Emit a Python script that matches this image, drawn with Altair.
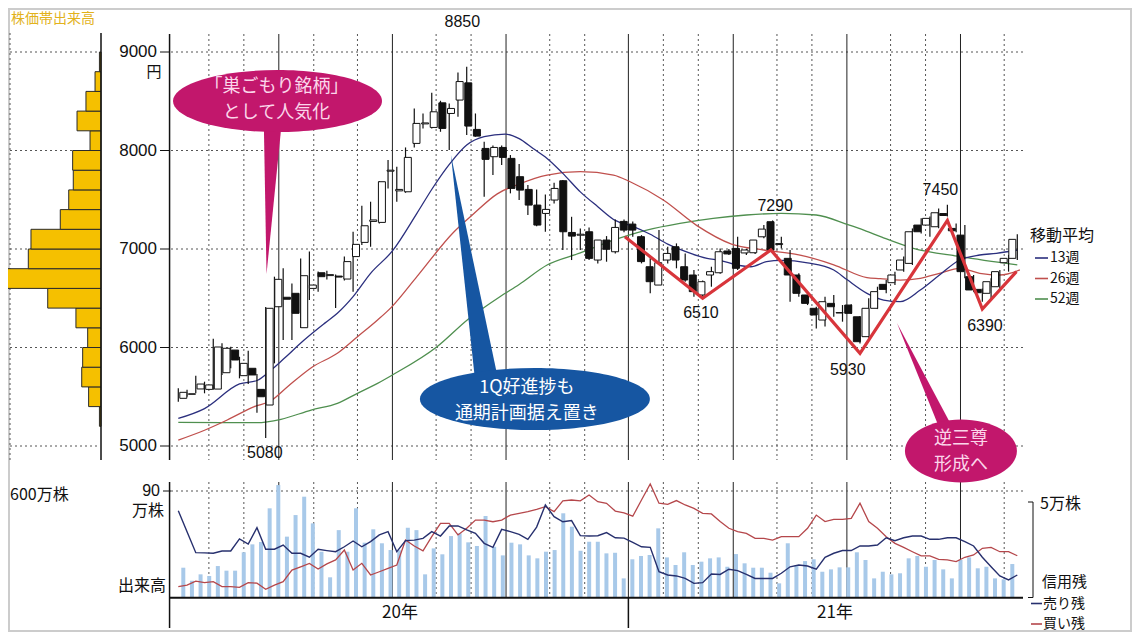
import altair as alt
import pandas as pd

JP = "Noto Sans CJK JP"
NUM = "Liberation Sans"

# ---------------- weekly candles (Jan 2020 - Oct 2021), yen ----------------
weeks = list(range(97))
open_ = [5484,5525,5579,5575,5578,5744,5974,5714,5789,5575,
         5416,6414,6510,6550,6201,6600,6759,6730,6725,6695,
         6923,7067,7280,7270,7790,7590,7581,8072,8270,8234,
         8484,8376,8512,8687,8214,8021,7937,8031,7920,7734,
         7605,7446,7361,7497,7693,7168,7140,7175,6888,7091,
         6972,7280,7253,7125,6820,6634,6888,7023,6820,6736,
         6533,6736,6759,6980,7006,6960,6962,7124,7277,7045,
         6905,6736,6533,6398,6279,6448,6350,6431,6312,6110,
         6398,6641,6658,6787,6854,7243,7243,7226,7360,7209,
         7141,6719,6590,6550,6617,6861,6905]
high_ = [5586,5570,5714,5653,6090,6042,6008,5906,5967,5731,
         6410,6719,6804,6651,6903,6974,6772,6780,6740,6923,
         7175,7439,7480,7690,7903,7835,8031,8427,8376,8586,
         8505,8478,8793,8850,8376,8089,8050,8050,7954,7862,
         7649,7605,7554,7673,7700,7327,7209,7219,7091,7131,
         7300,7300,7280,7141,6905,7192,7023,7057,6955,6787,
         6680,6820,7006,7000,7125,7000,7091,7243,7290,7124,
         6990,6753,6540,6414,6516,6533,6431,6440,6320,6499,
         6617,6685,6770,6923,7209,7311,7330,7412,7450,7260,
         7243,6736,6600,6702,6787,6939,7149]
low_ = [5450,5500,5535,5535,5570,5721,5789,5687,5629,5338,
        5080,5839,6076,6076,6198,6482,6567,6690,6400,6680,
        6566,7040,7023,7260,7615,7480,7571,8031,8224,8224,
        8190,8004,8342,8157,8140,7531,7751,7852,7565,7497,
        7344,7230,7175,7463,6989,6888,6989,6888,6854,6871,
        6955,7170,7124,6854,6550,6634,6854,6804,6668,6516,
        6510,6617,6750,6940,6787,6940,6950,7110,6980,7006,
        6465,6516,6431,6194,6212,6312,6262,6340,6040,6100,
        6390,6550,6634,6770,6838,7158,7124,7210,7330,7170,
        6702,6567,6465,6482,6600,6770,6888]
close_ = [5545,5530,5629,5620,6005,5992,5873,5839,5721,5500,
          6398,6692,6490,6347,6729,6634,6719,6740,6715,6872,
          7047,7236,7295,7683,7800,7605,7930,8275,8280,8393,
          8224,8427,8700,8248,8146,7910,8031,7930,7615,7598,
          7446,7243,7402,7615,7175,7131,7150,6905,7091,6997,
          7219,7192,7192,6872,6668,6861,6955,6888,6685,6567,
          6668,6770,6972,6950,6804,6990,7091,7202,6990,7055,
          6736,6550,6448,6330,6465,6414,6355,6347,6059,6398,
          6567,6590,6736,6888,7175,7175,7311,7368,7340,7185,
          6770,6584,6556,6668,6770,6905,7098]

# weekly volume, 10k shares (万株)
volume = [25.3,14.3,19.7,18.3,26.7,22.8,22.8,38.3,45,47,
          75.4,95,51.5,69.7,85.2,62.7,38.8,17.2,57,38.8,
          75.4,46.4,57.7,45.9,40.2,40,59,57,19.7,41.6,
          36.6,52,54.3,46.7,43.6,68.9,43,35.7,46.4,45,
          35.7,33.2,38.8,40.2,71.2,59.9,39.6,47.2,47.2,37.4,
          37.9,16.3,32.4,35.2,36,58.5,34,27.6,38.3,27.6,
          30.4,33.2,34,26.1,36.8,29,25.3,25.3,21.1,12.1,
          45.9,27.6,30.9,32.4,21.9,23.9,25.6,25.6,38.3,31.8,
          16.3,21.9,19.7,20.6,33.2,35.2,26.1,31.8,23.9,16.3,
          31.8,34,24.8,26.1,16.3,15.5,28.4]
# margin balances, 10k shares (万株)
sell_margin = [4.56,3.46,2.36,2.35,2.33,2.45,2.45,3.08,2.81,3.67,
               2.54,2.54,2.76,2.33,2.33,2.12,2.54,2.47,2.41,2.67,
               2.97,2.67,2.94,3.29,3.46,2.41,2.99,3.02,3.11,3.46,
               3.23,3.76,3.76,3.55,3.37,2.85,2.64,3.58,3.46,3.32,
               3.06,3.7,4.86,4.25,3.98,4.04,3.25,3.23,3.25,3.41,
               3.14,3.12,2.9,2.67,2.64,1.36,1.19,1.14,1.01,0.75,
               0.79,1.24,1.22,1.49,1.42,1.22,1.01,1.01,1.01,1.28,
               1.62,1.71,1.66,1.49,2.12,2.33,2.47,2.47,2.71,2.71,
               2.76,3.14,2.99,3.14,3.23,3.23,3.06,3.06,3.14,3.14,
               2.94,2.71,2.12,1.62,1.14,0.93,1.19]
buy_margin = [0.58,0.66,0.87,0.79,0.84,0.58,0.58,0.54,0.79,0.76,
              0.44,0.66,0.84,1.45,1.62,1.80,1.50,1.77,1.98,2.50,
              1.45,1.80,1.19,1.36,1.54,1.71,3.02,2.71,2.46,3.20,
              3.90,3.90,3.29,3.64,4.07,4.07,3.98,4.07,4.33,4.42,
              4.51,4.63,4.77,4.51,5.08,5.12,5.08,5.38,5.03,4.95,
              4.54,4.45,4.27,5.12,5.96,4.95,4.89,5.09,4.86,4.68,
              4.42,4.39,3.99,3.64,3.46,3.37,3.11,3.11,3.02,3.20,
              3.20,3.20,3.64,4.33,3.99,4.11,4.11,4.16,4.95,3.99,
              3.64,3.20,2.85,2.64,2.41,2.19,2.19,2.01,1.98,1.89,
              2.12,2.24,2.59,2.64,2.41,2.41,2.20]

# moving averages
ma13_w = [0,3,7,9,10.6,12,14.4,16.8,18.2,20,22,24.5,27.3,29.2,31.1,33,35,37.4,39,40.6,
          42.2,44,46,48,50,52,54,56,58,60.5,62,64,65.5,67.3,69,72,75,76.5,78.8,80.7,
          82.6,84.9,87.1,89.4,91.7,93.6,96]
ma13_v = [5280,5380,5630,5665,5770,5880,6076,6250,6347,6516,6753,6980,7362,7632,7869,8055,8140,8167,8120,8020,
          7920,7768,7580,7430,7290,7230,7150,7050,6975,6905,6885,6835,6820,6871,6885,6860,6787,6690,6550,6482,
          6465,6583,6736,6888,6939,6956,6990]
ma26_w = [0,3,5.6,8.7,10.6,12.5,15.3,18.2,20.5,22.8,24.4,27.3,31.5,33.7,36.5,39,42.2,46,49.8,51.7,
          55.5,59.3,63.3,67,71,75,78.8,80.3,82.6,84.9,87.1,89.4,91.7,94,96.3]
ma26_v = [5060,5160,5264,5400,5460,5602,5800,5941,6109,6279,6410,6719,7170,7350,7560,7660,7751,7785,7751,7683,
          7497,7240,7050,6990,6940,6840,6710,6700,6685,6702,6753,6804,6753,6736,6787]
ma52_w = [0,5,9,11.75,15.2,18.2,20.5,22.8,24.5,29.6,33.2,36.8,39,42.2,46,49.8,53.6,57.4,61.2,65,
          69,73,76.7,78.5,80.5,84,89.5,96]
ma52_v = [5240,5237,5237,5271,5365,5433,5535,5636,5721,6008,6290,6516,6640,6838,6960,7090,7192,7260,7311,7345,
          7362,7345,7245,7190,7120,7010,6922,6838]

# inverse head & shoulders zigzag
zz_w = [51.1, 60, 67.8, 78, 88, 92, 95.9]
zz_v = [7125, 6500, 6990, 5940, 7290, 6390, 6770]

# volume-at-price histogram (200-yen bands, 万株)
hist_lo = [5200,5400,5600,5800,6000,6200,6400,6600,6800,7000,7200,7400,7600,7800,8000,8200,8400,8600,8800]
hist_vol = [10,79,123,117,85,160,340,600,464,447,260,206,177,181,70,153,96,38,10]

price_ticks = [5000, 6000, 7000, 8000, 9000]
month_lines = [3.5,7.5,15.5,20.5,29.5,33.5,42.5,46.5,55.5,59.5,68.5,72.5,81.5,85.5,94.5]
quarter_lines = [11.5,24.5,37.5,51.5,63.5,76.5,89.5]
year_lines = [-1.0, 51.5]

label_w = [32.5, 9.9, 68.3, 87.2, 59.8, 76.6, 92.3]
label_p = [9304, 4929, 7437, 7599, 6350, 5772, 6218]
label_t = ["8850", "5080", "7290", "7450", "6510", "5930", "6390"]

ma_names = ["13週", "26週", "52週"]
ma_colors = ["#2b2f7e", "#c0504d", "#4f8f4f"]
mg_names = ["売り残", "買い残"]
mg_colors = ["#27306e", "#b5474b"]

# ---------------- scales ----------------
def px(v):
    return v - 8

xs = alt.Scale(domain=[0, 96], range=[px(178.3), px(1017.3)], zero=False, nice=False)
ps = alt.Scale(domain=[5000, 9000], range=[px(446), px(52)], zero=False, nice=False)
vs = alt.Scale(domain=[0, 90], range=[px(597.7), px(491)], zero=False, nice=False)
ms = alt.Scale(domain=[0, 5], range=[px(597.7), px(502.3)], zero=False, nice=False)
hs = alt.Scale(domain=[0, 600], range=[px(101), px(7)], zero=False, nice=False)

def X(f):
    return alt.X(f, type="quantitative", scale=xs, axis=None)
def YP(f):
    return alt.Y(f, type="quantitative", scale=ps, axis=None)
def YV(f):
    return alt.Y(f, type="quantitative", scale=vs, axis=None)
def YM(f):
    return alt.Y(f, type="quantitative", scale=ms, axis=None)

ONE = pd.DataFrame({"k": [0]})

def rule_px(x1, y1, x2, y2, color="#111", width=1.0, dash=None):
    m = dict(color=color, strokeWidth=width)
    if dash:
        m["strokeDash"] = dash
    return alt.Chart(ONE).mark_rule(**m).encode(
        x=alt.value(px(x1)), x2=alt.value(px(x2)), y=alt.value(px(y1)), y2=alt.value(px(y2)))

def txt(s, x, y, size=16, color="#111", align="left", font=JP, baseline="middle"):
    return alt.Chart(ONE).mark_text(text=s, align=align, baseline=baseline, fontSize=size,
                                    font=font, color=color).encode(x=alt.value(px(x)), y=alt.value(px(y)))

def ellipse_path(k):
    c = 0.5523
    return (f"M-1,0C-1,{-c*k:.4f},{-c:.4f},{-k:.4f},0,{-k:.4f}"
            f"C{c:.4f},{-k:.4f},1,{-c*k:.4f},1,0"
            f"C1,{c*k:.4f},{c:.4f},{k:.4f},0,{k:.4f}"
            f"C{-c:.4f},{k:.4f},-1,{c*k:.4f},-1,0Z")

DOT = [2, 3]
layers = []

# frame
layers.append(alt.Chart(ONE).mark_rect(fillOpacity=0, stroke="#cccccc", strokeWidth=2).encode(
    x=alt.value(1), x2=alt.value(1123), y=alt.value(1), y2=alt.value(623)))

# price grid
pg = pd.DataFrame({"p": price_ticks, "lab": [str(v) for v in price_ticks]})
layers.append(alt.Chart(pg).mark_rule(color="#555", strokeDash=DOT).encode(
    y=YP("p"), x=alt.value(px(171)), x2=alt.value(px(1023))))
layers.append(alt.Chart(pg).mark_rule(color="#555", strokeDash=DOT).encode(
    y=YP("p"), x=alt.value(px(10)), x2=alt.value(px(100))))
layers.append(alt.Chart(pg).mark_rule(color="#111").encode(
    y=YP("p"), x=alt.value(px(160)), x2=alt.value(px(170))))
layers.append(alt.Chart(pg).mark_text(align="right", baseline="middle", fontSize=17, font=NUM,
                                      color="#111").encode(y=YP("p"), x=alt.value(px(157)), text="lab:N"))
layers.append(rule_px(10, 33, 10, 460, "#555", 1, DOT))

# vertical lines
mg = pd.DataFrame({"w": month_lines})
qg = pd.DataFrame({"w": quarter_lines})
yg = pd.DataFrame({"w": year_lines})
for (y1, y2) in [(34, 460), (482, 598)]:
    layers.append(alt.Chart(mg).mark_rule(color="#555", strokeDash=DOT).encode(
        x=X("w"), y=alt.value(px(y1)), y2=alt.value(px(y2))))
    layers.append(alt.Chart(qg).mark_rule(color="#222", strokeWidth=1).encode(
        x=X("w"), y=alt.value(px(y1)), y2=alt.value(px(y2))))
layers.append(alt.Chart(yg).mark_rule(color="#111", strokeWidth=1.5).encode(
    x=X("w"), y=alt.value(px(598)), y2=alt.value(px(628))))
layers.append(alt.Chart(pd.DataFrame({"w": [-1.0]})).mark_rule(color="#111", strokeWidth=1.5).encode(
    x=X("w"), y=alt.value(px(34)), y2=alt.value(px(460))))
layers.append(alt.Chart(pd.DataFrame({"w": [-1.0]})).mark_rule(color="#111", strokeWidth=1.5).encode(
    x=X("w"), y=alt.value(px(482)), y2=alt.value(px(598))))

# histogram
hd = pd.DataFrame({"lo": hist_lo, "hi": [v + 200 for v in hist_lo], "hv": hist_vol, "zero": 0})
layers.append(alt.Chart(hd).mark_rect(fill="#f5c000", stroke="#2a2a2a", strokeWidth=1).encode(
    x=alt.X("hv", type="quantitative", scale=hs, axis=None), x2=alt.X2("zero"),
    y=YP("lo"), y2=alt.Y2("hi")))
layers.append(rule_px(101, 33, 101, 460, "#111", 1.5))

# moving averages
for w, v, col in [(ma52_w, ma52_v, ma_colors[2]), (ma26_w, ma26_v, ma_colors[1]), (ma13_w, ma13_v, ma_colors[0])]:
    layers.append(alt.Chart(pd.DataFrame({"w": w, "v": v})).mark_line(
        color=col, strokeWidth=1.3, interpolate="monotone").encode(x=X("w"), y=YP("v")))

# volume panel
vd = pd.DataFrame({"w": weeks, "vol": volume, "zero": 0, "sell": sell_margin, "buy": buy_margin})
layers.append(alt.Chart(pd.DataFrame({"v": [90]})).mark_rule(color="#555", strokeDash=DOT).encode(
    y=YV("v"), x=alt.value(px(171)), x2=alt.value(px(1023))))
layers.append(alt.Chart(pd.DataFrame({"v": [90]})).mark_rule(color="#111").encode(
    y=YV("v"), x=alt.value(px(163)), x2=alt.value(px(171))))
layers.append(alt.Chart(vd).mark_bar(size=4, color="#a8c9e9").encode(
    x=X("w"), y=YV("vol"), y2=alt.Y2("zero")))
layers.append(alt.Chart(vd).mark_line(color=mg_colors[1], strokeWidth=1.3).encode(x=X("w"), y=YM("buy")))
layers.append(alt.Chart(vd).mark_line(color=mg_colors[0], strokeWidth=1.4).encode(x=X("w"), y=YM("sell")))
layers.append(alt.Chart(pd.DataFrame({"v": [0]})).mark_rule(color="#111", strokeWidth=2).encode(
    y=YV("v"), x=alt.value(px(170)), x2=alt.value(px(1023))))

# candles
cd = pd.DataFrame({"w": weeks, "o": open_, "h": high_, "l": low_, "c": close_})
layers.append(alt.Chart(cd).mark_rule(color="#111", strokeWidth=1.2).encode(
    x=X("w"), y=YP("l"), y2=alt.Y2("h")))
layers.append(alt.Chart(cd).mark_bar(size=7, stroke="#111", strokeWidth=1).encode(
    x=X("w"), y=YP("o"), y2=alt.Y2("c"),
    fill=alt.condition("datum.c >= datum.o", alt.value("#ffffff"), alt.value("#111111"))))

# zigzag
layers.append(alt.Chart(pd.DataFrame({"w": zz_w, "v": zz_v})).mark_line(
    color="#d8353b", strokeWidth=3.2).encode(x=X("w"), y=YP("v")))

# callouts
callouts = [
    dict(w=11.35, p=8502, lines=["「巣ごもり銘柄」", "として人気化"], color="#c2176c", tcolor="#fbd6ea",
         rx=104.5, k=0.297, wedge="M-0.13,0.26L0.035,0.26L-0.105,1.656Z", dx=-1, dy=-1),
    dict(w=40.8, p=5477, lines=["1Q好進捗も", "通期計画据え置き"], color="#1656a2", tcolor="#ffffff",
         rx=115, k=0.27, wedge="M-0.513,-0.096L-0.304,-0.096L-0.730,-2.122Z", dx=-8, dy=2),
    dict(w=89.55, p=4949, lines=["逆三尊", "形成へ"], color="#c2176c", tcolor="#fbd6ea",
         rx=56, k=0.5625, wedge="M-0.357,-0.339L-0.107,-0.339L-1.143,-2.286Z", dx=0, dy=1),
]
for c in callouts:
    d = pd.DataFrame({"w": [c["w"]], "p": [c["p"]]})
    size = (2 * c["rx"]) ** 2
    layers.append(alt.Chart(d).mark_point(shape=c["wedge"], size=size, filled=True, opacity=1,
                                          color=c["color"], strokeWidth=0).encode(x=X("w"), y=YP("p")))
    layers.append(alt.Chart(d).mark_point(shape=ellipse_path(c["k"]), size=size, filled=True, opacity=1,
                                          color=c["color"], strokeWidth=0).encode(x=X("w"), y=YP("p")))
    n = len(c["lines"])
    for j, line in enumerate(c["lines"]):
        off = (j - (n - 1) / 2) * 26.5 + c["dy"]
        layers.append(alt.Chart(d).mark_text(text=line, fontSize=18, font=JP, color=c["tcolor"],
                                             align="center", baseline="middle", dx=c["dx"], dy=off
                                             ).encode(x=X("w"), y=YP("p")))

# price labels
ld = pd.DataFrame({"w": label_w, "p": label_p, "t": label_t})
layers.append(alt.Chart(ld).mark_text(fontSize=16, font=NUM, color="#111", align="center",
                                      baseline="middle").encode(x=X("w"), y=YP("p"), text="t:N"))

# texts
layers.append(txt("株価帯出来高", 11, 19, 14, "#e2b21c"))
layers.append(txt("円", 154, 72, 15, align="center"))
layers.append(txt("600万株", 10, 495, 16))
layers.append(txt("90", 160, 491, 16, align="right", font=NUM))
layers.append(txt("万株", 164, 511, 16, align="right"))
layers.append(txt("出来高", 166, 586, 16, align="right"))
layers.append(txt("20年", 400, 613, 17, align="center"))
layers.append(txt("21年", 835, 613, 17, align="center"))
layers.append(txt("移動平均", 1030, 236, 16))
for i, (n, col) in enumerate(zip(ma_names, ma_colors)):
    yy = 258 + i * 20.5
    layers.append(rule_px(1035, yy, 1048, yy, col, 1.6))
    layers.append(txt(n, 1050, yy, 14))
# margin legend
layers.append(rule_px(1028, 502, 1033, 502, "#111", 1))
layers.append(rule_px(1033, 502, 1033, 597.5, "#111", 1))
layers.append(rule_px(1028, 597.5, 1033, 597.5, "#111", 1))
layers.append(txt("5万株", 1040, 504, 16))
layers.append(txt("信用残", 1042, 582, 15))
for i, (n, col) in enumerate(zip(mg_names, mg_colors)):
    yy = 603.5 + i * 20.5
    layers.append(rule_px(1031, yy, 1042, yy, col, 1.6))
    layers.append(txt(n, 1043, yy, 14))

chart = alt.layer(*layers).resolve_scale(x="independent", y="independent").properties(
    width=1124, height=632, autosize=alt.AutoSizeParams(type="none"), padding=0
).configure_view(strokeWidth=0)

chart.save("out.html", embed_options={"renderer": "svg", "actions": False})
